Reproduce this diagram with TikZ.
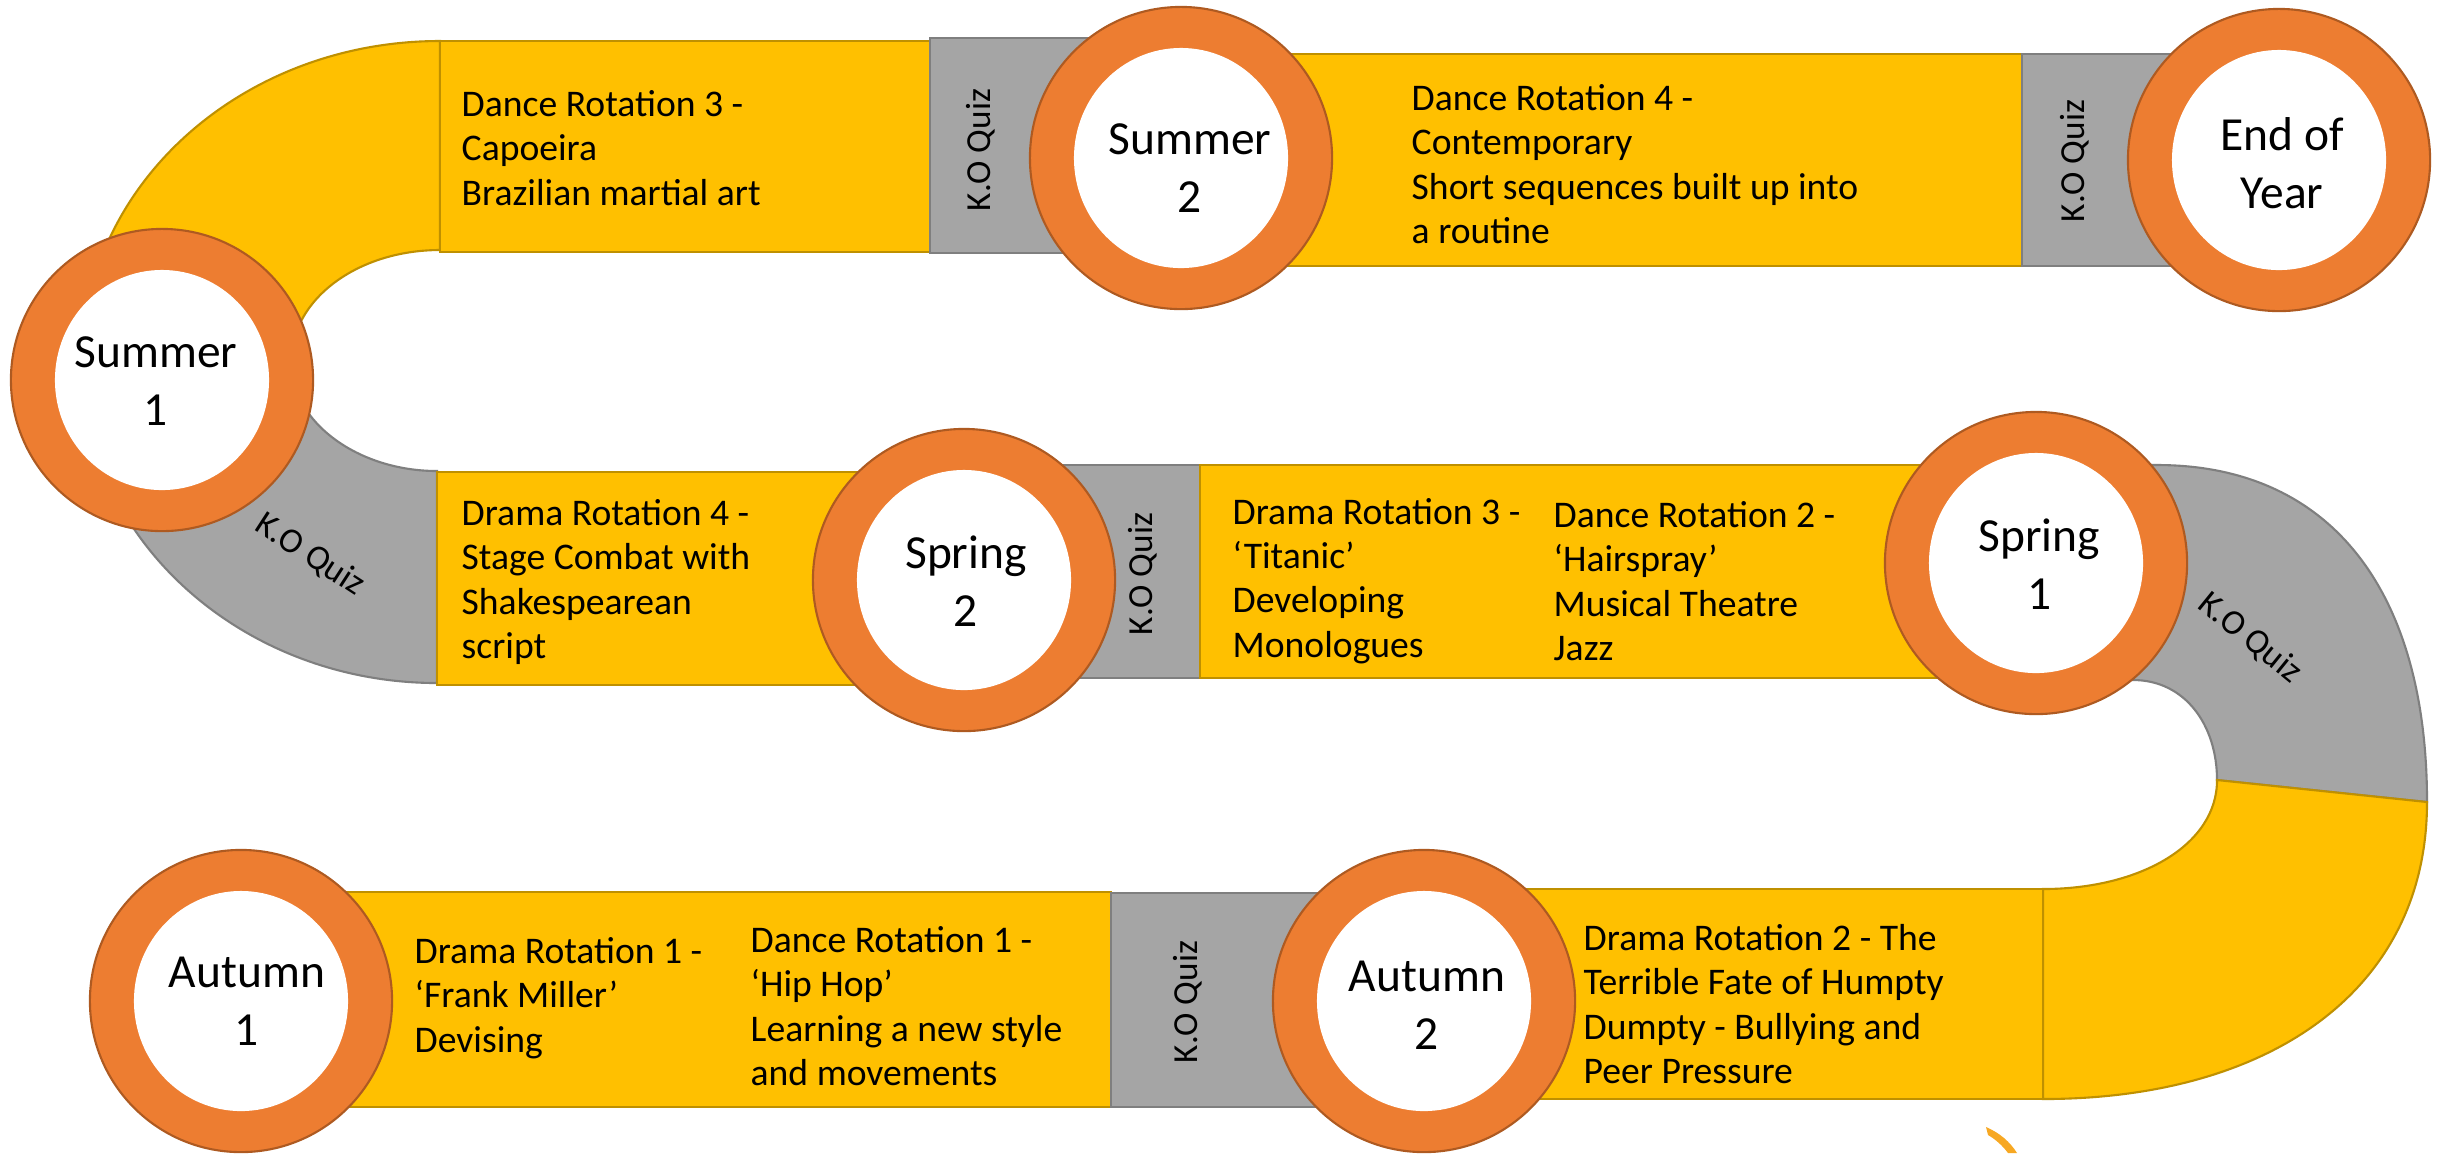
\documentclass[tikz,border=0pt]{standalone}
\usepackage{fontspec}
\setmainfont{Carlito}
\usetikzlibrary{shapes.geometric}
\definecolor{ygold}{HTML}{FFC000}
\definecolor{ygoldb}{HTML}{BF9000}
\definecolor{qgrey}{HTML}{A5A5A5}
\definecolor{qgreyb}{HTML}{7F7F7F}
\definecolor{ringc}{HTML}{ED7D31}
\definecolor{ringb}{HTML}{AE5A21}
\definecolor{logoc}{HTML}{F7A823}
\tikzset{
 ypiece/.style={fill=ygold, draw=ygoldb, line width=0.6pt},
 gpiece/.style={fill=qgrey, draw=qgreyb, line width=0.6pt},
 body/.style={font=\fontsize{10.7}{12.6}\selectfont, align=left, anchor=west, inner sep=0pt},
 quiz/.style={font=\fontsize{10}{12}\selectfont, inner sep=0pt},
 ringout/.style={circle, fill=ringc, draw=ringb, line width=0.6pt, inner sep=0pt, minimum size=3.02cm},
 ringin/.style={ellipse, fill=white, inner sep=0pt, minimum width=2.14cm, minimum height=2.2cm},
 lbl/.style={font=\fontsize{13.5}{16.5}\selectfont, align=center, inner sep=0pt},
}
\newcommand\termring[6]{%
 \node[ringout] (#1o) at (#2,#3) {};
 \node[ringin] (#1i) at (#2,#3) {};
 \node[lbl] (#1) at (#4,#5) {#6};
}
\begin{document}
\begin{tikzpicture}[x=0.01cm,y=-0.01cm]
\path[fill=white,use as bounding box] (0,0) rectangle (2443,1153);

% left bend
\path[ypiece] (440,41) .. controls (242,41) and (82,185) .. (82,362) -- (291,362) .. controls (291,299) and (358,250) .. (440,250) -- cycle;
\path[gpiece] (82,362) .. controls (82,539) and (242,683) .. (437,683) -- (437,471) .. controls (358,471) and (291,422) .. (291,362) -- cycle;

% right bend
\path[gpiece] (2040,465) -- (2157,465) .. controls (2330,465) and (2427,590) .. (2427,802) -- (2217,780) .. controls (2217,725) and (2185,680) .. (2133,680) -- (2040,680) -- cycle;
\path[ypiece] (2427,802) .. controls (2427,990) and (2270,1099) .. (2043,1099) -- (2043,889) .. controls (2140,889) and (2217,845) .. (2217,780) -- cycle;

% row 1
\path[ypiece] (440,41) rectangle (930,252);
\path[gpiece] (930,38) rectangle (1181,253);
\path[ypiece] (1181,54) rectangle (2022,266);
\path[gpiece] (2022,54) rectangle (2279,266);
% row 2
\path[ypiece] (437,472) rectangle (964,685);
\path[gpiece] (964,465) rectangle (1200,678);
\path[ypiece] (1200,465) rectangle (2036,678);
% row 3
\path[ypiece] (241,892) rectangle (1111,1107);
\path[gpiece] (1111,893) rectangle (1424,1107);
\path[ypiece] (1424,889) rectangle (2043,1099);

% texts
\node[body] (t3) at (461,148) {Dance Rotation 3 -\\Capoeira\\Brazilian martial art};
\node[quiz, rotate=90] (q1) at (981,150) {K.O Quiz};
\node[body] (t4) at (1411,164) {Dance Rotation 4 -\\Contemporary\\Short sequences built up into\\a routine};
\node[quiz, rotate=90] (q2) at (2075,161) {K.O Quiz};
\node[quiz, rotate=-33] (q5) at (310,555) {K.O Quiz};
\node[body] (d4) at (461,582) {Drama Rotation 4 -\\Stage Combat with\\Shakespearean\\script};
\node[quiz, rotate=90] (q3) at (1143,574) {K.O Quiz};
\node[body] (d3) at (1232,581) {Drama Rotation 3 -\\‘Titanic’\\Developing\\Monologues};
\node[body] (n2) at (1553,581) {Dance Rotation 2 -\\‘Hairspray’\\Musical Theatre\\Jazz};
\node[quiz, rotate=-39] (q6) at (2250,638) {K.O Quiz};
\node[body] (d1) at (414,998) {Drama Rotation 1 -\\‘Frank Miller’\\Devising};
\node[body] (n1) at (750,1006) {Dance Rotation 1 -\\‘Hip Hop’\\Learning a new style\\and movements};
\node[quiz, rotate=90] (q4) at (1188,1002) {K.O Quiz};
\node[body] (d2) at (1583,1004) {Drama Rotation 2 - The\\Terrible Fate of Humpty\\Dumpty - Bullying and\\Peer Pressure};

% rings
\termring{su1}{162}{380}{156}{381}{Summer\\1}
\termring{su2}{1181}{158}{1190}{168}{Summer\\2}
\termring{eoy}{2279}{160}{2282}{163}{End of\\Year}
\termring{sp2}{964}{580}{966}{581}{Spring\\2}
\termring{sp1}{2036}{563}{2039}{564}{Spring\\1}
\termring{au1}{241}{1001}{247}{1001}{Autumn\\1}
\termring{au2}{1424}{1001}{1427}{1005}{Autumn\\2}

% logo fragment
\fill[logoc] (1986,1127) .. controls (2000,1133) and (2010,1142) .. (2017,1153) -- (2008,1153) .. controls (2002,1145) and (1995,1139) .. (1988,1135) -- cycle;
\end{tikzpicture}
\end{document}
